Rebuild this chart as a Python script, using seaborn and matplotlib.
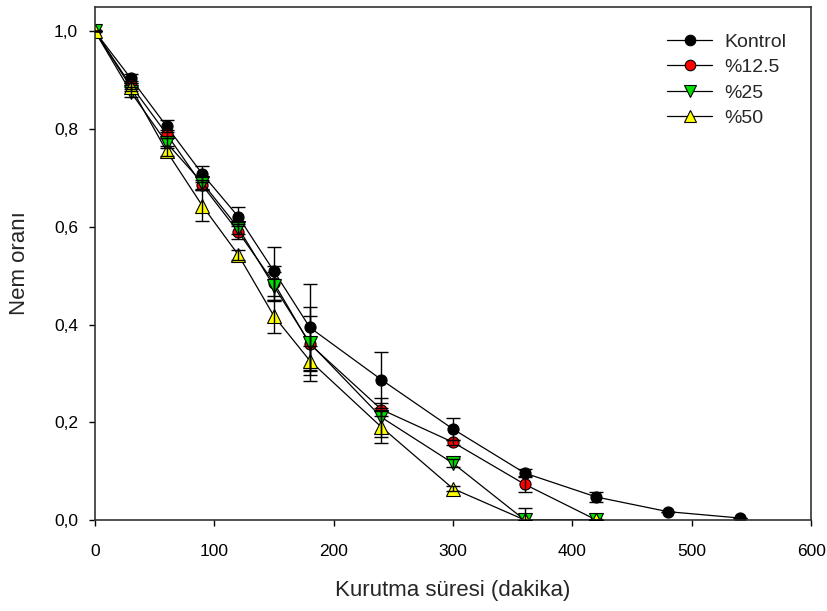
import numpy as np
import pandas as pd
import seaborn as sns
import matplotlib.pyplot as plt
from matplotlib.ticker import FuncFormatter

# Drying time (minutes)
time_k = [0, 30, 60, 90, 120, 150, 180, 240, 300, 360, 420, 480, 540]
time_12 = [0, 30, 60, 90, 120, 150, 180, 240, 300, 360, 420]
time_25 = [0, 30, 60, 90, 120, 150, 180, 240, 300, 360, 420]
time_50 = [0, 30, 60, 90, 120, 150, 180, 240, 300, 360, 420]

# Moisture ratio
kontrol = [1.0, 0.904, 0.806, 0.708, 0.621, 0.509, 0.394, 0.287, 0.186, 0.096, 0.047, 0.017, 0.004]
p12_5 = [1.0, 0.89, 0.79, 0.685, 0.59, 0.485, 0.36, 0.226, 0.159, 0.073, 0.0]
p25 = [1.0, 0.876, 0.772, 0.69, 0.598, 0.478, 0.362, 0.21, 0.116, 0.0, 0.0]
p50 = [1.0, 0.886, 0.755, 0.643, 0.543, 0.417, 0.326, 0.19, 0.064, 0.0, 0.0]

# Error bars
err_k = [0, 0.009, 0.012, 0.016, 0.02, 0.05, 0.09, 0.057, 0.023, 0.008, 0.01, 0, 0]
err_12 = [0, 0.008, 0.008, 0.01, 0.015, 0.035, 0.075, 0.013, 0.005, 0.016, 0]
err_25 = [0, 0.01, 0.01, 0.012, 0.012, 0.03, 0.055, 0.04, 0.008, 0.025, 0]
err_50 = [0, 0.008, 0.01, 0.032, 0.01, 0.034, 0.03, 0.033, 0.005, 0.0, 0]

series = [
    ("Kontrol", time_k, kontrol, err_k, "o", "black", 8),
    ("%12.5", time_12, p12_5, err_12, "o", "#ff0000", 8),
    ("%25", time_25, p25, err_25, "v", "#00e000", 9.5),
    ("%50", time_50, p50, err_50, "^", "#ffff00", 9.5),
]

sns.set_style("ticks")
plt.rcParams['font.family'] = ['Liberation Sans', 'DejaVu Sans']

fig = plt.figure(figsize=(8.28, 6.11), dpi=100)
ax = fig.add_axes([0.1147, 0.149, 0.865, 0.8395])

for name, t, y, e, m, col, ms in series:
    df = pd.DataFrame({"t": t, "y": y})
    sns.lineplot(data=df, x="t", y="y", ax=ax, color="black", linewidth=0.9,
                 marker=m, markersize=ms, markerfacecolor=col,
                 markeredgecolor="black", markeredgewidth=0.8, label=name)
    ax.errorbar(t, y, yerr=e, fmt="none", ecolor="black", elinewidth=1.0,
                capsize=5, capthick=1.0, zorder=3)

ax.set_xlim(0, 600)
ax.set_ylim(0, 1.05)
ax.set_xticks([0, 100, 200, 300, 400, 500, 600])
ax.set_yticks([0, 0.2, 0.4, 0.6, 0.8, 1.0])
ax.yaxis.set_major_formatter(FuncFormatter(lambda v, p: f"{v:.1f}".replace(".", ",")))
ax.tick_params(direction="out", length=4.3, width=1, labelsize=12.5, colors="black")
ax.tick_params(axis="x", pad=13)
ax.tick_params(axis="y", pad=8)
for s in ax.spines.values():
    s.set_color("#333333")
    s.set_linewidth(1.2)

ax.set_xlabel("Kurutma süresi (dakika)", fontsize=16, labelpad=15)
ax.set_ylabel("Nem oranı", fontsize=16, labelpad=17)

ax.legend(loc="upper right", bbox_to_anchor=(0.965, 0.949), frameon=False,
          fontsize=14, handlelength=2.3, markerscale=0.95, borderpad=0,
          borderaxespad=0, labelspacing=0.4, handletextpad=0.62)

fig.savefig("out.png", dpi=100)
